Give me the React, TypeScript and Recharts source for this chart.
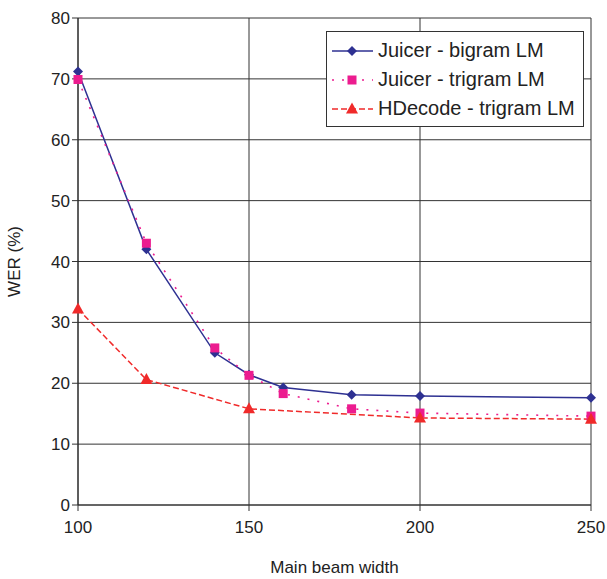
import React from "react";
import { LineChart, Line, XAxis, YAxis, CartesianGrid } from "recharts";

const beamWidths = [100, 120, 140, 150, 160, 180, 200, 250];
const juicerBigram = [71.2, 42.0, 25.0, 21.4, 19.3, 18.1, 17.9, 17.6];
const juicerTrigram = [69.9, 43.0, 25.8, 21.3, 18.3, 15.8, 15.1, 14.6];
const hdecodeTrigram = [32.2, 20.6, null, 15.8, null, null, 14.3, 14.1];
const xTicks = [100, 150, 200, 250];
const yTicks = [0, 10, 20, 30, 40, 50, 60, 70, 80];
const seriesNames = ["Juicer - bigram LM", "Juicer - trigram LM", "HDecode - trigram LM"];

const data = beamWidths.map((b, i) => ({
  beam: b,
  bigram: juicerBigram[i],
  trigram: juicerTrigram[i],
  hdecode: hdecodeTrigram[i],
}));

const NAVY = "#2e3192";
const PINK = "#ec1c8f";
const RED = "#f02a2a";
const FONT = "'Liberation Sans', Arial, sans-serif";

const Diamond = (props: any) => {
  const { cx, cy } = props;
  if (cx == null || cy == null) return null;
  const r = 5;
  return <path d={`M${cx},${cy - r}L${cx + r},${cy}L${cx},${cy + r}L${cx - r},${cy}Z`} fill={NAVY} />;
};
const Square = (props: any) => {
  const { cx, cy } = props;
  if (cx == null || cy == null) return null;
  const r = 4.5;
  return <rect x={cx - r} y={cy - r} width={2 * r} height={2 * r} fill={PINK} />;
};
const Triangle = (props: any) => {
  const { cx, cy } = props;
  if (cx == null || cy == null) return null;
  return <path d={`M${cx},${cy - 6.5}L${cx + 6},${cy + 4.5}L${cx - 6},${cy + 4.5}Z`} fill={RED} />;
};

const LegendBox = () => {
  const items = [
    { color: NAVY, dash: undefined, Marker: Diamond },
    { color: PINK, dash: "2 8", Marker: Square },
    { color: RED, dash: "6 3", Marker: Triangle },
  ];
  return (
    <div
      style={{
        position: "absolute",
        left: 326,
        top: 31,
        border: "1px solid #333",
        background: "#fff",
        width: 258,
        height: 96,
        boxSizing: "border-box",
        padding: "4px 0 0 5px",
        fontFamily: FONT,
        fontSize: 20,
        color: "#222",
        whiteSpace: "nowrap",
      }}
    >
      {items.map((it, i) => (
        <div key={i} style={{ display: "flex", alignItems: "center", height: 29 }}>
          <svg width={41} height={20} style={{ marginRight: 5, flex: "none" }}>
            <line x1={0} y1={10} x2={41} y2={10} stroke={it.color} strokeWidth={1.4} strokeDasharray={it.dash} />
            <it.Marker cx={20} cy={10} />
          </svg>
          <span>{seriesNames[i]}</span>
        </div>
      ))}
    </div>
  );
};

export default function App() {
  return (
    <div style={{ position: "absolute", left: 0, top: 0, width: 607, height: 579, background: "#fff" }}>
      <LineChart width={607} height={579} data={data} margin={{ top: 18, right: 16, bottom: 6, left: 0 }}>
        <CartesianGrid stroke="#333" strokeWidth={1} horizontal={true} vertical={true} />
        <XAxis
          dataKey="beam"
          type="number"
          domain={[100, 250]}
          ticks={xTicks}
          axisLine={{ stroke: "#333" }}
          tickLine={{ stroke: "#333" }}
          tickSize={6}
          tick={{ fill: "#222", fontSize: 17, fontFamily: FONT, dy: 8 }}
          height={68}
          label={{ value: "Main beam width", position: "insideBottom", offset: 0, fill: "#222", fontSize: 17, fontFamily: FONT }}
        />
        <YAxis
          type="number"
          domain={[0, 80]}
          ticks={yTicks}
          interval={0}
          axisLine={{ stroke: "#222" }}
          tickLine={{ stroke: "#333" }}
          tickSize={6}
          tick={{ fill: "#222", fontSize: 17, fontFamily: FONT }}
          width={78}
          label={{ value: "WER (%)", angle: -90, position: "insideLeft", offset: 14, fill: "#222", fontSize: 17, fontFamily: FONT, style: { textAnchor: "middle" } }}
        />
        <Line dataKey="bigram" stroke={NAVY} strokeWidth={1.5} dot={<Diamond />} activeDot={false} isAnimationActive={false} />
        <Line dataKey="trigram" stroke={PINK} strokeWidth={1.6} strokeDasharray="2 8" dot={<Square />} activeDot={false} isAnimationActive={false} />
        <Line dataKey="hdecode" stroke={RED} strokeWidth={1.5} strokeDasharray="6 3" connectNulls dot={<Triangle />} activeDot={false} isAnimationActive={false} />
      </LineChart>
      <LegendBox />
    </div>
  );
}
